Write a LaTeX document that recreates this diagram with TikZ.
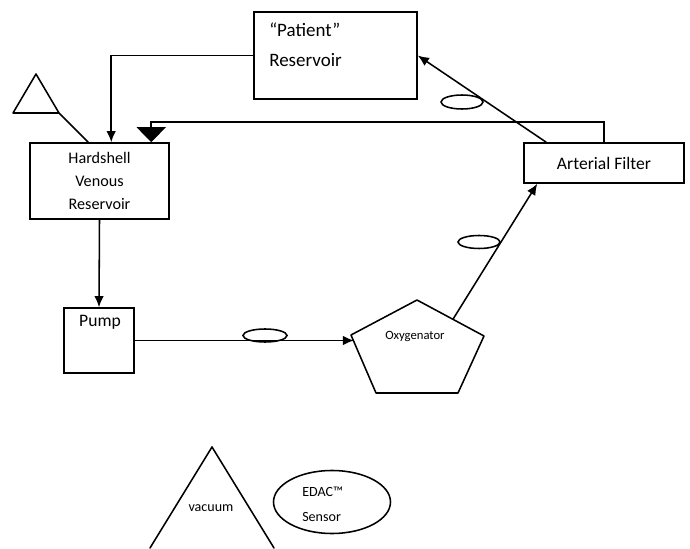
\documentclass[tikz,border=0pt]{standalone}
\usepackage{fontspec}
\setmainfont{Carlito}
\usepackage{tkz-euclide}
\usetikzlibrary{arrows.meta,calc,positioning,shapes.geometric}

\tikzset{
  box/.style={draw,line width=1.1pt,rectangle,inner sep=0pt},
  probe/.style={draw,line width=1.1pt,ellipse,inner sep=0pt},
  flow/.style={line width=1.1pt,-{Latex[length=2.8mm,width=2.4mm]}},
  leftlabel/.style={anchor=west,inner sep=0pt},
}

\begin{document}
\begin{tikzpicture}
    \useasboundingbox (0,0) rectangle (17.25,13.7);
    \tkzSetUpLine[line width=1.1pt,color=black]
    \tkzDefPoints{10.425/6.2/O1, 8.775/5.325/O2, 9.4/3.875/O3, 11.45/3.875/O4, 12.1/5.3/O5}
    \tkzDefPoints{0.9/11.85/T1, 0.325/10.875/T2, 1.475/10.875/T3}
    \tkzDefPoints{3.75/0/V1, 5.3/2.525/V2, 6.85/0/V3}

    \tkzDrawPolygon(O1,O2,O3,O4,O5)
    \tkzDrawPolygon(T1,T2,T3)
    \tkzDrawSegments(V1,V2 V2,V3)

    \node[box,minimum width=4.075cm,minimum height=2.175cm] (patient) at (8.3875,12.3125) {};
    \node[leftlabel,font=\fontsize{13.5}{20}\selectfont] (patienttop) at (6.725,12.95) {“Patient”};
    \node[leftlabel,font=\fontsize{13.5}{20}\selectfont] (patientbot) at (6.725,12.2) {Reservoir};
    \node[box,minimum width=3.475cm,minimum height=1.9cm,align=center,font=\fontsize{11.5}{16.4}\selectfont] (venous) at (2.4875,9.175) {Hardshell\\Venous\\Reservoir};
    \node[box,minimum width=1.75cm,minimum height=1.625cm] (pump) at (2.475,5.1875) {};
    \node[font=\fontsize{12.5}{15}\selectfont] (pumptext) at (2.5,5.65) {Pump};
    \node[box,minimum width=4cm,minimum height=1cm,font=\fontsize{12.5}{15}\selectfont] (filter) at (15.1,9.625) {Arterial Filter};
    \node[font=\fontsize{9}{11}\selectfont] (oxytext) at (10.375,5.3) {Oxygenator};
    \node[font=\fontsize{10}{12}\selectfont] (vactext) at (5.275,1.0) {vacuum};
    \node[probe,minimum width=2.925cm,minimum height=1.575cm] (edac) at (8.3,1.15) {};
    \node[leftlabel,font=\fontsize{10}{12}\selectfont] (edactop) at (7.55,1.4) {EDAC™};
    \node[leftlabel,font=\fontsize{10}{12}\selectfont] (edacbot) at (7.55,0.775) {Sensor};

    \node[probe,minimum width=1.05cm,minimum height=0.35cm] (probe1) at (11.55,11.15) {};
    \node[probe,minimum width=1.05cm,minimum height=0.325cm] (probe2) at (11.975,7.65) {};
    \node[probe,minimum width=1.1cm,minimum height=0.325cm] (probe3) at (6.625,5.3125) {};

    \coordinate (vin) at ($(venous.north west)+(2.05,0)$);
    \coordinate (vtop) at ($(venous.north west)+(3.05,0)$);
    \coordinate (vvac) at ($(venous.north west)+(1.475,0)$);
    \coordinate (fout) at ($(filter.north west)+(0.575,0)$);
    \coordinate (fin) at ($(filter.south west)+(0.35,0)$);
    \coordinate (oxyin) at (8.85,5.15);
    \coordinate (oxyout) at (11.325,5.72);

    \draw[flow] (patient.west) -| (vin);
    \draw[line width=1.1pt,-{Triangle[length=3.75mm,width=7.25mm]}] (filter.north) |- ($(vtop)+(0,0.5)$) -- (vtop);
    \draw[flow] (fout) -- (patient.east);
    \draw[flow] (venous.south) -- (pump.north);
    \draw[flow] (pump.east) -- (pump.east -| oxyin);
    \draw[flow] (oxyout) -- (fin);
    \draw[line width=1.1pt] (T3) -- (vvac);
\end{tikzpicture}
\end{document}
